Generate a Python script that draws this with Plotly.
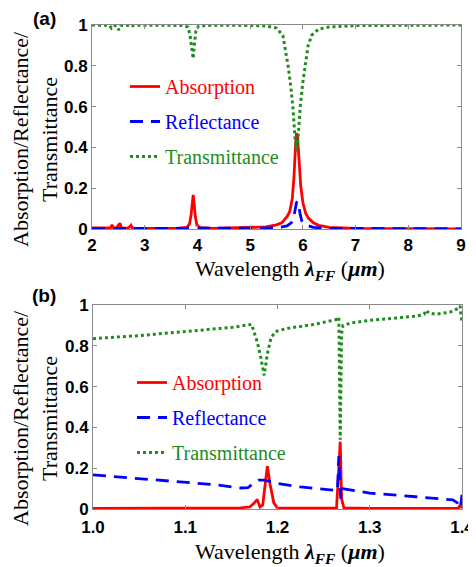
import plotly.graph_objects as go

W, H = 476, 567
OFF = 8  # page body margin of the browser

# ---------------- Panel (a) data ----------------
a_abs_x = [2.0, 2.3, 2.35, 2.38, 2.41, 2.46, 2.5, 2.53, 2.56, 2.68, 2.72, 2.74, 2.77, 3.0, 3.6, 3.8, 3.85, 3.88, 3.9, 3.92,
           3.94, 3.96, 3.99, 4.05, 4.3, 5.0, 5.3, 5.5, 5.6, 5.7, 5.75, 5.8, 5.83, 5.86, 5.88, 5.9, 5.93, 5.96, 6.0,
           6.05, 6.1, 6.2, 6.3, 6.5, 7.0, 7.5, 9.0]
a_abs_y = [0.005, 0.003, 0.005, 0.02, 0.005, 0.005, 0.022, 0.028, 0.005, 0.004, 0.012, 0.018, 0.003, 0.002, 0.003, 0.008,
           0.025, 0.07, 0.12, 0.167, 0.12, 0.06, 0.02, 0.007, 0.003, 0.006, 0.01, 0.02, 0.03, 0.06, 0.085, 0.15, 0.25,
           0.4, 0.47, 0.45, 0.33, 0.21, 0.13, 0.08, 0.055, 0.03, 0.018, 0.008, 0.003, 0.002, 0.001]

a_ref_x = [2.0, 5.0, 5.5, 5.7, 5.78, 5.82, 5.85, 5.88, 5.9, 5.92, 5.95, 5.98, 6.05, 6.2, 6.5, 9.0]
a_ref_y = [0.002, 0.002, 0.005, 0.015, 0.03, 0.05, 0.09, 0.13, 0.135, 0.12, 0.07, 0.04, 0.02, 0.008, 0.003, 0.001]

a_tra_x = [2.0, 2.33, 2.37, 2.41, 2.47, 2.51, 2.55, 2.7, 2.74, 2.8, 3.7, 3.82, 3.86, 3.89, 3.92, 3.94, 3.97, 4.02,
           4.3, 5.0, 5.3, 5.4, 5.5, 5.62, 5.72, 5.77, 5.81, 5.85, 5.88, 5.91, 5.95, 6.0, 6.04, 6.1, 6.17, 6.3,
           6.5, 7.0, 9.0]
a_tra_y = [1.0, 0.998, 0.985, 0.997, 0.996, 0.975, 0.997, 0.998, 0.992, 0.999, 0.998, 0.99, 0.95, 0.88, 0.835, 0.9,
           0.97, 0.995, 0.999, 0.998, 0.995, 0.99, 0.985, 0.95, 0.8, 0.7, 0.6, 0.45, 0.38, 0.45, 0.6, 0.72, 0.8,
           0.9, 0.95, 0.98, 0.99, 0.997, 1.0]

# ---------------- Panel (b) data ----------------
b_abs_x = [1.0, 1.1, 1.14, 1.16, 1.17, 1.175, 1.178, 1.181, 1.184, 1.187, 1.189, 1.192, 1.196, 1.2, 1.25, 1.264,
           1.2665, 1.268, 1.2695, 1.272, 1.3, 1.39, 1.396, 1.398, 1.399, 1.4]
b_abs_y = [0.003, 0.003, 0.004, 0.006, 0.01, 0.03, 0.047, 0.01, 0.02, 0.15, 0.21, 0.12, 0.03, 0.004, 0.003, 0.006,
           0.2, 0.33, 0.05, 0.005, 0.003, 0.003, 0.004, 0.02, 0.005, 0.06]

b_ref_x = [1.0, 1.05, 1.1, 1.13, 1.16, 1.168, 1.174, 1.18, 1.186, 1.19, 1.2, 1.225, 1.25, 1.265, 1.2665, 1.268,
           1.2685, 1.27, 1.3, 1.35, 1.39, 1.395, 1.397, 1.399, 1.4]
b_ref_y = [0.167, 0.15, 0.13, 0.12, 0.103, 0.105, 0.125, 0.142, 0.142, 0.138, 0.125, 0.108, 0.095, 0.09, 0.26,
           0.12, 0.05, 0.1, 0.078, 0.06, 0.045, 0.03, 0.005, 0.03, 0.07]

b_tra_x = [1.0, 1.05, 1.1, 1.15, 1.172, 1.178, 1.182, 1.1855, 1.189, 1.193, 1.198, 1.21, 1.24, 1.265, 1.2665,
           1.268, 1.2695, 1.271, 1.28, 1.3, 1.35, 1.359, 1.361, 1.364, 1.372, 1.387, 1.396, 1.398, 1.399, 1.4]
b_tra_y = [0.835, 0.85, 0.87, 0.89, 0.905, 0.82, 0.74, 0.655, 0.76, 0.84, 0.87, 0.885, 0.905, 0.93, 0.94, 0.34,
           0.86, 0.9, 0.912, 0.925, 0.945, 0.955, 0.975, 0.96, 0.955, 0.965, 0.984, 0.995, 0.94, 0.92]

a_xticks = [2, 3, 4, 5, 6, 7, 8, 9]
b_xticks = [1.0, 1.1, 1.2, 1.3, 1.4]
yticks = [0, 0.2, 0.4, 0.6, 0.8, 1]

names = ["Absorption", "Reflectance", "Transmittance"]
colors = ["#ff0000", "#0000ff", "#1f8c1f"]

RED, BLUE, GREEN = colors


def px(v):
    return (v - OFF) / W


def py(v):
    return 1 - (v - OFF) / H


fig = go.Figure()

styles = [dict(color=RED, width=2.8), dict(color=BLUE, width=2.8, dash="13px,8px"),
          dict(color=GREEN, width=3, dash="dot")]

panel_a = [(a_abs_x, a_abs_y), (a_ref_x, a_ref_y), (a_tra_x, a_tra_y)]
panel_b = [(b_abs_x, b_abs_y), (b_ref_x, b_ref_y), (b_tra_x, b_tra_y)]

for i, (xs, ys) in enumerate(panel_a):
    fig.add_trace(go.Scatter(x=xs, y=ys, mode="lines", line=styles[i],
                             name=f'<span style="color:{colors[i]}">{names[i]}</span>',
                             legendgroup=f"a{i}", legend="legend", xaxis="x", yaxis="y"))
for i, (xs, ys) in enumerate(panel_b):
    fig.add_trace(go.Scatter(x=xs, y=ys, mode="lines", line=styles[i],
                             name=f'<span style="color:{colors[i]}">{names[i]}</span>',
                             legendgroup=f"b{i}", legend="legend2", xaxis="x2", yaxis="y2"))

axis_common = dict(showline=True, linecolor="#8a8a8a", linewidth=1, mirror="ticks", ticks="inside",
                   ticklen=4, tickcolor="#8a8a8a", showgrid=False, zeroline=False, automargin=False,
                   tickfont=dict(family="Liberation Sans", size=17, color="black", weight="bold"))

legend_common = dict(xanchor="left", yanchor="top", bgcolor="rgba(0,0,0,0)", borderwidth=0,
                     font=dict(family="Liberation Serif", size=20), tracegroupgap=6)

ytitle = "Absorption/Reflectance/<br>Transmittance"
xtitle = "Wavelength <b><i>λ<sub>FF</sub></i></b> (<b><i>μm</i></b>)"
serif = dict(family="Liberation Serif", size=22, color="black")
bold = dict(family="Liberation Sans", size=19, color="black", weight="bold")


def note(text, x, y, font, angle=0):
    return dict(text=text, x=px(x), y=py(y), xref="paper", yref="paper", showarrow=False,
                xanchor="center", yanchor="middle", textangle=angle, font=font)


fig.update_layout(
    template="none",
    width=W, height=H, margin=dict(l=0, r=0, t=0, b=0, autoexpand=False),
    plot_bgcolor="white", paper_bgcolor="white", showlegend=True,
    xaxis=dict(domain=[px(92), px(461)], range=[2, 9], tickvals=a_xticks, anchor="y", ticklabelstandoff=1,
               **axis_common),
    yaxis=dict(domain=[py(229), py(25)], range=[0, 1], tickvals=yticks, anchor="x", **axis_common),
    xaxis2=dict(domain=[px(93), px(462)], range=[1.0, 1.4], tickvals=b_xticks, tickformat=".1f", anchor="y2",
                ticklabelstandoff=3, **axis_common),
    yaxis2=dict(domain=[py(509), py(305)], range=[0, 1], tickvals=yticks, anchor="x2", **axis_common),
    legend=dict(x=px(125), y=py(67), **legend_common),
    legend2=dict(x=px(132), y=py(363), **legend_common),
    annotations=[
        note("(a)", 44, 18, bold),
        note("(b)", 44, 295, bold),
        note(ytitle, 35, 139, serif, -90),
        note(ytitle, 35, 418, serif, -90),
        note(xtitle, 290, 270, serif),
        note(xtitle, 290, 553, serif),
    ],
)

fig.write_html("out.html")
